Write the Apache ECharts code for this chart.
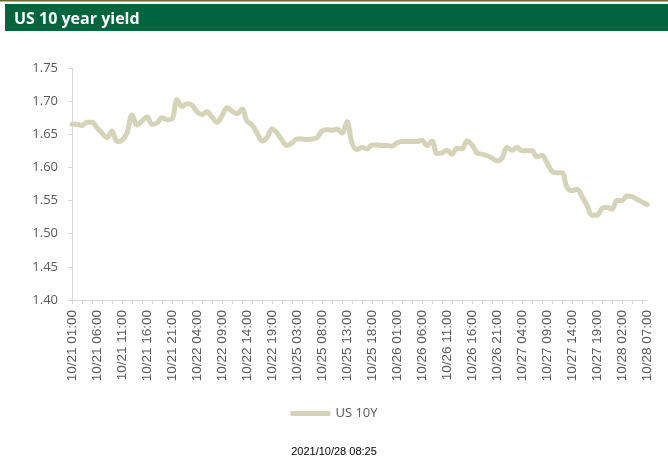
<!DOCTYPE html>
<html>
<head>
<meta charset="utf-8">
<script src="https://cdn.jsdelivr.net/npm/echarts@6/dist/echarts.min.js"></script>
<style>
html,body{margin:0;padding:0;background:#fff;}
#chart{width:668px;height:460px;}
</style>
</head>
<body>
<div id="chart"></div>
<script>
var titleText = 'US 10 year yield';
var seriesName = 'US 10Y';
var footerText = '2021/10/28 08:25';

var categories = [
  '10/21 01:00','10/21 02:00','10/21 03:00','10/21 04:00','10/21 05:00','10/21 06:00','10/21 07:00','10/21 08:00','10/21 09:00','10/21 10:00','10/21 11:00','10/21 12:00','10/21 13:00','10/21 14:00','10/21 15:00','10/21 16:00','10/21 17:00','10/21 18:00','10/21 19:00','10/21 20:00','10/21 21:00','10/21 22:00',
  '10/22 01:00','10/22 02:00','10/22 03:00','10/22 04:00','10/22 05:00','10/22 06:00','10/22 07:00','10/22 08:00','10/22 09:00','10/22 10:00','10/22 11:00','10/22 12:00','10/22 13:00','10/22 14:00','10/22 15:00','10/22 16:00','10/22 17:00','10/22 18:00','10/22 19:00','10/22 20:00','10/22 21:00','10/22 22:00',
  '10/25 02:00','10/25 03:00','10/25 04:00','10/25 05:00','10/25 06:00','10/25 07:00','10/25 08:00','10/25 09:00','10/25 10:00','10/25 11:00','10/25 12:00','10/25 13:00','10/25 14:00','10/25 15:00','10/25 16:00','10/25 17:00','10/25 18:00','10/25 19:00','10/25 20:00','10/25 21:00','10/25 22:00',
  '10/26 01:00','10/26 02:00','10/26 03:00','10/26 04:00','10/26 05:00','10/26 06:00','10/26 07:00','10/26 08:00','10/26 09:00','10/26 10:00','10/26 11:00','10/26 12:00','10/26 13:00','10/26 14:00','10/26 15:00','10/26 16:00','10/26 17:00','10/26 18:00','10/26 19:00','10/26 20:00','10/26 21:00','10/26 22:00',
  '10/27 01:00','10/27 02:00','10/27 03:00','10/27 04:00','10/27 05:00','10/27 06:00','10/27 07:00','10/27 08:00','10/27 09:00','10/27 10:00','10/27 11:00','10/27 12:00','10/27 13:00','10/27 14:00','10/27 15:00','10/27 16:00','10/27 17:00','10/27 18:00','10/27 19:00','10/27 20:00','10/27 21:00','10/27 22:00',
  '10/28 01:00','10/28 02:00','10/28 03:00','10/28 04:00','10/28 05:00','10/28 06:00','10/28 07:00'
];

var us10y = [
  1.665,1.665,1.663,1.668,1.668,1.660,1.652,1.645,1.655,1.639,1.641,1.652,1.679,1.664,1.670,1.676,1.665,1.667,1.675,1.672,1.673,1.702,
  1.692,1.696,1.694,1.684,1.680,1.684,1.676,1.668,1.678,1.690,1.685,1.681,1.688,1.670,1.664,1.652,1.640,1.645,1.658,1.652,1.641,1.633,
  1.637,1.643,1.643,1.642,1.643,1.645,1.655,1.657,1.656,1.658,1.652,1.669,1.637,1.627,1.630,1.628,1.634,1.634,1.633,1.633,1.632,
  1.637,1.639,1.639,1.639,1.639,1.641,1.633,1.640,1.621,1.622,1.626,1.620,1.629,1.628,1.640,1.634,1.622,1.620,1.618,1.614,1.610,1.614,
  1.630,1.626,1.630,1.625,1.625,1.625,1.616,1.618,1.607,1.594,1.592,1.592,1.570,1.565,1.567,1.556,1.543,1.528,1.528,1.538,1.540,1.537,
  1.550,1.550,1.557,1.556,1.552,1.548,1.544
];

var yMin = 1.40, yMax = 1.75, yStep = 0.05;

var chart = echarts.init(document.getElementById('chart'), null, {renderer: 'canvas'});
chart.setOption({
  animation: false,
  backgroundColor: '#ffffff',
  graphic: [
    {type: 'rect', shape: {x: 0, y: 0, width: 668, height: 1.5}, style: {fill: '#6b6b2e'}, silent: true},
    {type: 'rect', shape: {x: 5, y: 4, width: 663, height: 27}, style: {fill: '#00643f'}, silent: true}
  ],
  title: [
    {text: titleText, left: 9, top: 6,
     textStyle: {color: '#ffffff', fontSize: 16, fontWeight: 'bold', fontFamily: 'Open Sans'}},
    {text: footerText, left: 'center', top: 441,
     textStyle: {color: '#000000', fontSize: 11, fontWeight: 'normal', fontFamily: 'Liberation Sans'}}
  ],
  legend: {
    data: [seriesName],
    left: 'center',
    top: 402,
    icon: 'roundRect',
    itemWidth: 40,
    itemHeight: 5,
    itemGap: 10,
    textStyle: {color: '#595959', fontSize: 13, fontFamily: 'Open Sans'}
  },
  grid: {left: 72, right: 21, top: 68, bottom: 160, containLabel: false},
  xAxis: {
    type: 'category',
    data: categories,
    boundaryGap: false,
    axisLine: {show: true, lineStyle: {color: '#d9d9d9', width: 1}},
    axisTick: {show: true, interval: 1, length: 4, lineStyle: {color: '#d9d9d9'}},
    axisLabel: {interval: 4, rotate: 90, margin: 10, color: '#595959', fontSize: 13.5, fontFamily: 'Liberation Sans'},
    splitLine: {show: false}
  },
  yAxis: {
    type: 'value',
    min: yMin, max: yMax, interval: yStep,
    axisLine: {show: true, lineStyle: {color: '#d9d9d9', width: 1}},
    axisTick: {show: true, length: 4, lineStyle: {color: '#d9d9d9'}},
    axisLabel: {formatter: function(v){return v.toFixed(2);}, margin: 14, color: '#595959', fontSize: 13, fontFamily: 'Open Sans'},
    splitLine: {show: false}
  },
  series: [{
    name: seriesName,
    type: 'line',
    data: us10y,
    smooth: 0.35,
    showSymbol: false,
    symbol: 'none',
    lineStyle: {color: '#d3d4b8', width: 5, cap: 'round', join: 'round'},
    itemStyle: {color: '#d3d4b8'}
  }]
});
</script>
</body>
</html>
